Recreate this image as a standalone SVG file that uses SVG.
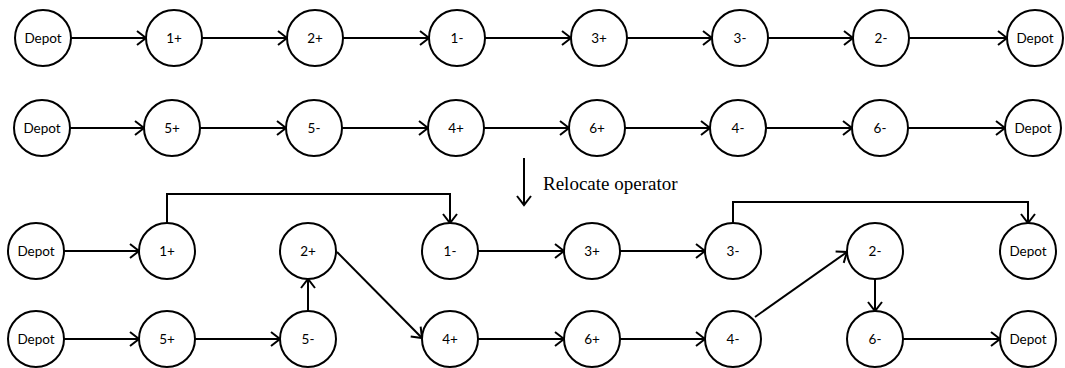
<svg xmlns="http://www.w3.org/2000/svg" width="1065" height="368" viewBox="0 0 1065 368">
<style>
.n circle{fill:#fff;stroke:#000;stroke-width:2}
.n text{font-family:Lato,"Liberation Sans",sans-serif;font-size:13.5px;fill:#000;text-anchor:middle}
.c path{fill:none;stroke:#000;stroke-width:2;marker-end:url(#ah)}
.lbl{font-family:"Liberation Serif","Times New Roman",serif;font-size:19px;fill:#000}
</style>
<defs>
<marker id="ah" markerUnits="userSpaceOnUse" viewBox="-11 -9 13 18" refX="0" refY="0" markerWidth="13" markerHeight="18" orient="auto">
<path d="M -9 -7 L 0 0 L -9 7" fill="none" stroke="#000" stroke-width="2" stroke-linejoin="miter"/>
</marker>
</defs>
<rect width="1065" height="368" fill="#fff"/>
<g class="c" id="connectors">
<path d="M71 38H146"/>
<path d="M202 38H287"/>
<path d="M343 38H429"/>
<path d="M485 38H571"/>
<path d="M627 38H712"/>
<path d="M768 38H853"/>
<path d="M909 38H1007"/>
<path d="M70 128H144"/>
<path d="M200 128H286"/>
<path d="M342 128H428"/>
<path d="M484 128H569"/>
<path d="M625 128H710"/>
<path d="M766 128H852"/>
<path d="M908 128H1005"/>
<path d="M524 158V205"/>
<path d="M64 251H139"/>
<path d="M167 223V194H450V223"/>
<path d="M478 251H564"/>
<path d="M620 251H705"/>
<path d="M733 223V202H1028V223"/>
<path d="M64 339H139"/>
<path d="M195 339H280"/>
<path d="M308 311V279"/>
<path d="M337 252L422 338"/>
<path d="M478 339H564"/>
<path d="M620 339H705"/>
<path d="M755 317L847 252"/>
<path d="M875 279V311"/>
<path d="M903 339H1000"/>
</g>
<text class="lbl" x="543" y="190">Relocate operator</text>
<g class="n" id="r1-depot-start"><circle cx="43" cy="38" r="28"/><text x="43" y="42.7">Depot</text></g>
<g class="n" id="r1-1p"><circle cx="174" cy="38" r="28"/><text x="174" y="42.7">1+</text></g>
<g class="n" id="r1-2p"><circle cx="315" cy="38" r="28"/><text x="315" y="42.7">2+</text></g>
<g class="n" id="r1-1m"><circle cx="457" cy="38" r="28"/><text x="457" y="42.7">1-</text></g>
<g class="n" id="r1-3p"><circle cx="599" cy="38" r="28"/><text x="599" y="42.7">3+</text></g>
<g class="n" id="r1-3m"><circle cx="740" cy="38" r="28"/><text x="740" y="42.7">3-</text></g>
<g class="n" id="r1-2m"><circle cx="881" cy="38" r="28"/><text x="881" y="42.7">2-</text></g>
<g class="n" id="r1-depot-end"><circle cx="1035" cy="38" r="28"/><text x="1035" y="42.7">Depot</text></g>
<g class="n" id="r2-depot-start"><circle cx="42" cy="128" r="28"/><text x="42" y="132.7">Depot</text></g>
<g class="n" id="r2-5p"><circle cx="172" cy="128" r="28"/><text x="172" y="132.7">5+</text></g>
<g class="n" id="r2-5m"><circle cx="314" cy="128" r="28"/><text x="314" y="132.7">5-</text></g>
<g class="n" id="r2-4p"><circle cx="456" cy="128" r="28"/><text x="456" y="132.7">4+</text></g>
<g class="n" id="r2-6p"><circle cx="597" cy="128" r="28"/><text x="597" y="132.7">6+</text></g>
<g class="n" id="r2-4m"><circle cx="738" cy="128" r="28"/><text x="738" y="132.7">4-</text></g>
<g class="n" id="r2-6m"><circle cx="880" cy="128" r="28"/><text x="880" y="132.7">6-</text></g>
<g class="n" id="r2-depot-end"><circle cx="1033" cy="128" r="28"/><text x="1033" y="132.7">Depot</text></g>
<g class="n" id="r3-depot-start"><circle cx="36" cy="251" r="28"/><text x="36" y="255.7">Depot</text></g>
<g class="n" id="r3-1p"><circle cx="167" cy="251" r="28"/><text x="167" y="255.7">1+</text></g>
<g class="n" id="r3-2p"><circle cx="308" cy="251" r="28"/><text x="308" y="255.7">2+</text></g>
<g class="n" id="r3-1m"><circle cx="450" cy="251" r="28"/><text x="450" y="255.7">1-</text></g>
<g class="n" id="r3-3p"><circle cx="592" cy="251" r="28"/><text x="592" y="255.7">3+</text></g>
<g class="n" id="r3-3m"><circle cx="733" cy="251" r="28"/><text x="733" y="255.7">3-</text></g>
<g class="n" id="r3-2m"><circle cx="875" cy="251" r="28"/><text x="875" y="255.7">2-</text></g>
<g class="n" id="r3-depot-end"><circle cx="1028" cy="251" r="28"/><text x="1028" y="255.7">Depot</text></g>
<g class="n" id="r4-depot-start"><circle cx="36" cy="339" r="28"/><text x="36" y="343.7">Depot</text></g>
<g class="n" id="r4-5p"><circle cx="167" cy="339" r="28"/><text x="167" y="343.7">5+</text></g>
<g class="n" id="r4-5m"><circle cx="308" cy="339" r="28"/><text x="308" y="343.7">5-</text></g>
<g class="n" id="r4-4p"><circle cx="450" cy="339" r="28"/><text x="450" y="343.7">4+</text></g>
<g class="n" id="r4-6p"><circle cx="592" cy="339" r="28"/><text x="592" y="343.7">6+</text></g>
<g class="n" id="r4-4m"><circle cx="733" cy="339" r="28"/><text x="733" y="343.7">4-</text></g>
<g class="n" id="r4-6m"><circle cx="875" cy="339" r="28"/><text x="875" y="343.7">6-</text></g>
<g class="n" id="r4-depot-end"><circle cx="1028" cy="339" r="28"/><text x="1028" y="343.7">Depot</text></g>
</svg>
